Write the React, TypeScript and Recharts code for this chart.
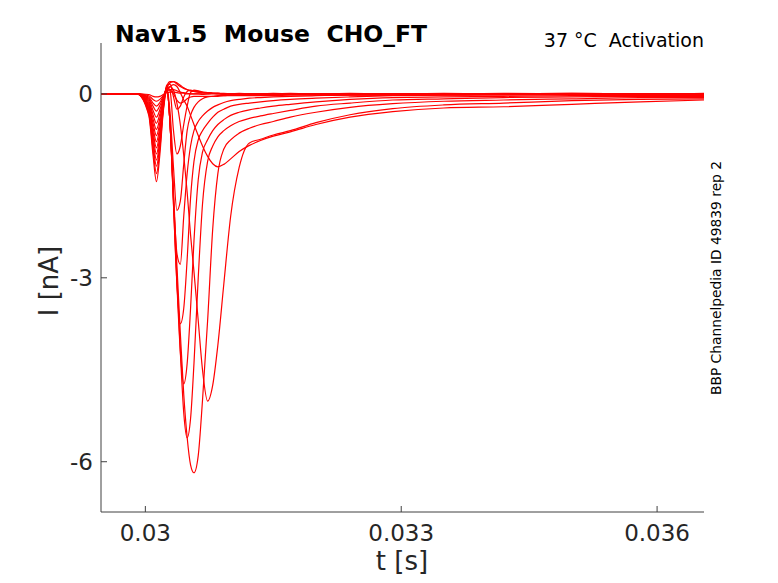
import { Line, LineChart, XAxis, YAxis } from "recharts";

// time samples [s], denser around the step and the peaks
const TIME = [
  0.02948, 0.0299, 0.03004, 0.03009, 0.03013, 0.03017, 0.03021, 0.03025, 0.03029, 0.03033,
  0.03037, 0.03041, 0.03045, 0.03049, 0.03053, 0.03057, 0.03062, 0.03067, 0.03073, 0.03079,
  0.03085, 0.03092, 0.031, 0.0311, 0.03122, 0.03135, 0.0315, 0.0317, 0.032, 0.0324,
  0.0329, 0.0335, 0.0342, 0.035, 0.0358, 0.03655
];

// current traces [nA], one per voltage step
const SWEEP_01 = [0, 0, -0.01, -0.04, -0.05, -0.04, -0.01, 0.02, 0.03, 0.03, 0.02, 0.01, 0.01, 0, 0, 0, 0, 0, 0, 0.01, 0, 0, 0, 0.01, 0, 0, 0.01, 0, 0, 0.01, 0, 0.01, 0, 0.01, 0, 0.01];
const SWEEP_02 = [0, 0, -0.03, -0.09, -0.12, -0.09, -0.03, 0.05, 0.07, 0.07, 0.05, 0.03, 0.02, 0.01, 0, 0, 0, -0.01, 0, 0, 0, -0.01, 0, 0, -0.01, 0, 0, -0.01, 0, 0, 0, 0, -0.01, 0, 0, 0];
const SWEEP_03 = [0, 0, -0.05, -0.15, -0.2, -0.14, -0.04, 0.06, 0.06, 0, -0.1, -0.15, -0.13, -0.08, -0.05, -0.04, -0.04, -0.04, -0.04, -0.04, -0.04, -0.03, -0.03, -0.03, -0.03, -0.03, -0.03, -0.02, -0.02, -0.02, -0.02, -0.02, -0.01, -0.01, -0.02, -0.01];
const SWEEP_04 = [0, 0, -0.07, -0.2, -0.28, -0.19, -0.06, 0.05, 0.12, 0.15, 0.12, 0.02, -0.1, -0.2, -0.35, -0.5, -0.68, -0.85, -1.02, -1.14, -1.19, -1.15, -1.06, -0.94, -0.84, -0.76, -0.69, -0.62, -0.5, -0.38, -0.29, -0.23, -0.21, -0.17, -0.13, -0.1];
const SWEEP_05 = [0, 0, -0.09, -0.27, -0.38, -0.26, -0.08, 0.08, 0.12, 0.06, -0.15, -0.5, -1.0, -1.6, -2.3, -2.9, -3.7, -4.5, -5.01, -4.75, -4.1, -3.1, -2.0, -1.2, -0.8, -0.74, -0.67, -0.6, -0.47, -0.34, -0.24, -0.18, -0.15, -0.11, -0.09, -0.08];
const SWEEP_06 = [0, 0, -0.12, -0.34, -0.48, -0.33, -0.1, 0.1, -0.5, -1.6, -2.8, -3.9, -4.9, -5.6, -6.05, -6.18, -5.9, -5.0, -3.7, -2.2, -1.3, -0.9, -0.75, -0.64, -0.56, -0.5, -0.45, -0.38, -0.3, -0.22, -0.16, -0.12, -0.1, -0.08, -0.06, -0.06];
const SWEEP_07 = [0, 0, -0.14, -0.41, -0.58, -0.4, -0.12, 0.1, -0.5, -1.7, -3.0, -4.2, -5.2, -5.61, -5.3, -4.4, -3.0, -1.8, -1.1, -0.85, -0.7, -0.6, -0.52, -0.45, -0.4, -0.36, -0.32, -0.27, -0.2, -0.15, -0.1, -0.08, -0.06, -0.05, -0.04, -0.04];
const SWEEP_08 = [0, 0, -0.17, -0.48, -0.68, -0.47, -0.14, 0.1, -0.5, -1.8, -3.1, -4.2, -4.73, -4.4, -3.5, -2.4, -1.4, -0.95, -0.75, -0.6, -0.5, -0.42, -0.35, -0.3, -0.26, -0.23, -0.2, -0.17, -0.13, -0.09, -0.06, -0.05, -0.04, -0.03, -0.03, -0.03];
const SWEEP_09 = [0, 0, -0.19, -0.55, -0.78, -0.54, -0.16, 0.1, -0.5, -1.8, -3.1, -3.75, -3.5, -2.7, -1.7, -1.1, -0.75, -0.6, -0.48, -0.38, -0.3, -0.25, -0.2, -0.17, -0.15, -0.13, -0.11, -0.09, -0.07, -0.05, -0.03, -0.02, -0.02, -0.01, -0.02, -0.01];
const SWEEP_10 = [0, 0, -0.22, -0.62, -0.88, -0.61, -0.18, 0.1, -0.5, -1.7, -2.6, -2.78, -2.0, -1.3, -0.85, -0.6, -0.45, -0.36, -0.28, -0.22, -0.18, -0.14, -0.11, -0.09, -0.07, -0.06, -0.05, -0.04, -0.03, -0.02, -0.02, -0.01, -0.01, 0, -0.01, 0];
const SWEEP_11 = [0, 0, -0.24, -0.69, -0.98, -0.68, -0.2, 0.1, -0.3, -1.2, -1.9, -1.75, -1.15, -0.6, -0.35, -0.22, -0.13, -0.08, -0.05, -0.04, -0.03, -0.03, -0.02, -0.02, -0.01, -0.01, -0.01, -0.01, 0, 0, -0.01, 0, 0, 0, 0, 0];
const SWEEP_12 = [0, 0, -0.27, -0.76, -1.08, -0.75, -0.22, 0.12, 0.05, -0.6, -0.98, -0.85, -0.5, -0.2, 0.02, 0.06, 0.05, 0.03, 0.02, 0.01, 0.01, 0, 0, 0, 0, 0, 0, 0.01, 0, 0, 0, 0, 0.01, 0, 0, 0];
const SWEEP_13 = [0, 0, -0.29, -0.83, -1.18, -0.82, -0.24, 0.14, 0.16, -0.05, -0.25, -0.2, -0.05, 0.04, 0.06, 0.05, 0.04, 0.03, 0.02, 0.01, 0.01, 0, 0, 0, 0, 0, 0, 0, 0, 0, 0, 0, 0, 0.01, 0, 0];
const SWEEP_14 = [0, 0, -0.32, -0.91, -1.3, -0.9, -0.26, 0.12, 0.2, 0.2, 0.16, 0.12, 0.09, 0.07, 0.05, 0.04, 0.03, 0.02, 0.02, 0.01, 0.01, 0, 0, 0, 0, 0, 0, 0, 0, 0, 0, 0, 0, 0, 0, 0];
const SWEEP_15 = [0, 0, -0.35, -1.0, -1.43, -0.99, -0.29, 0.08, 0.18, 0.2, 0.18, 0.14, 0.1, 0.07, 0.05, 0.04, 0.03, 0.02, 0.02, 0.01, 0.01, 0.01, 0, 0, 0, 0, 0, 0, 0, 0, 0, 0, 0, 0, 0, 0];

const SWEEPS = [
  SWEEP_01, SWEEP_02, SWEEP_03, SWEEP_04, SWEEP_05, SWEEP_06, SWEEP_07, SWEEP_08,
  SWEEP_09, SWEEP_10, SWEEP_11, SWEEP_12, SWEEP_13, SWEEP_14, SWEEP_15
];

const X_TICKS = [0.03, 0.033, 0.036];
const Y_TICKS = [-6, -3, 0];

const data = TIME.map((t, i) => {
  const row: Record<string, number> = { t };
  SWEEPS.forEach((s, k) => {
    row["s" + k] = s[i];
  });
  return row;
});

const FONT = "'DejaVu Sans', sans-serif";
const AXIS = "#404040";
const LABEL = "#262626";
const PLOT_LEFT = 101;
const PLOT_BOTTOM = 512;

function XTick(props: any) {
  const { x, payload } = props;
  return (
    <g>
      <line x1={x} x2={x} y1={PLOT_BOTTOM} y2={PLOT_BOTTOM - 6} stroke={AXIS} />
      <text x={x} y={541} textAnchor="middle" fontFamily={FONT} fontSize={23} fill={LABEL}>
        {String(payload.value)}
      </text>
    </g>
  );
}

function YTick(props: any) {
  const { y, payload } = props;
  return (
    <g>
      <line x1={PLOT_LEFT} x2={PLOT_LEFT + 6} y1={y} y2={y} stroke={AXIS} />
      <text x={93} y={y} textAnchor="end" dominantBaseline="central" fontFamily={FONT} fontSize={23} fill={LABEL}>
        {String(payload.value)}
      </text>
    </g>
  );
}

export default function App() {
  return (
    <div style={{ position: "absolute", left: 0, top: 0, width: 778, height: 583, background: "#fff" }}>
      <LineChart
        width={778}
        height={583}
        data={data}
        margin={{ top: 43, right: 74, bottom: 31, left: 0 }}
      >
        <XAxis
          dataKey="t"
          type="number"
          domain={[0.02948, 0.03655]}
          ticks={X_TICKS}
          allowDataOverflow
          height={40}
          axisLine={{ stroke: AXIS }}
          tickLine={false}
          tick={<XTick />}
        />
        <YAxis
          type="number"
          domain={[-6.82, 0.83]}
          ticks={Y_TICKS}
          allowDataOverflow
          width={101}
          axisLine={{ stroke: AXIS }}
          tickLine={false}
          tick={<YTick />}
        />
        {SWEEPS.map((_, k) => (
          <Line
            key={k}
            dataKey={"s" + k}
            type="monotone"
            stroke="#ff0000"
            strokeWidth={1.2}
            dot={false}
            isAnimationActive={false}
          />
        ))}
      </LineChart>
      <svg
        width={778}
        height={583}
        style={{ position: "absolute", left: 0, top: 0, pointerEvents: "none" }}
      >
        <text x={115} y={42} fontFamily={FONT} fontWeight="bold" fontSize={23.5} fill="#000" style={{ whiteSpace: "pre" }}>
          {"Nav1.5  Mouse  CHO_FT"}
        </text>
        <text x={704} y={47} textAnchor="end" fontFamily={FONT} fontSize={19} fill="#000" style={{ whiteSpace: "pre" }}>
          {"37 °C  Activation"}
        </text>
        <text x={402} y={570} textAnchor="middle" fontFamily={FONT} fontSize={26} fill={LABEL}>
          t [s]
        </text>
        <text transform="translate(58,281) rotate(-90)" textAnchor="middle" fontFamily={FONT} fontSize={26} fill={LABEL}>
          I [nA]
        </text>
        <text transform="translate(721,278) rotate(-90)" textAnchor="middle" fontFamily={FONT} fontSize={13.8} fill="#000">
          BBP Channelpedia ID 49839 rep 2
        </text>
      </svg>
    </div>
  );
}
